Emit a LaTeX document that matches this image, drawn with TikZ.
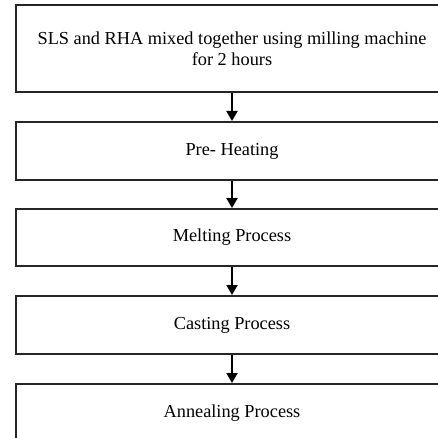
\documentclass[tikz,border=0pt]{standalone}
\usepackage{fontspec}
\setmainfont{Liberation Serif}
\usetikzlibrary{arrows.meta}
\begin{document}
\begin{tikzpicture}[x=1pt,y=1pt,
  stagebox/.style={draw=black!85, line width=2pt, minimum width=432pt,
    inner sep=0pt, align=center, font=\fontsize{18.3}{20.5}\selectfont},
  flow/.style={draw=black, line width=2pt,
    -{Triangle[width=11pt,length=10pt]}}]
  \useasboundingbox (0,0) rectangle (437,-438);
  \fill[white] (0,0) rectangle (437,-438);
  % process stages, top to bottom
  \node[stagebox, minimum height=87pt] (mix) at (232,-48.5)
    {SLS and RHA mixed together using milling machine\\for 2 hours};
  \node[stagebox, minimum height=58pt] (pre) at (232,-151) {Pre- Heating};
  \node[stagebox, minimum height=57pt] (melt) at (232,-237.5) {Melting Process};
  \node[stagebox, minimum height=58pt] (cast) at (232,-325) {Casting Process};
  \node[stagebox, minimum height=58pt] (anneal) at (232,-413) {Annealing Process};
  % connectors between stages
  \draw[flow] (mix.south) -- (pre.north);
  \draw[flow] (pre.south) -- (melt.north);
  \draw[flow] (melt.south) -- (cast.north);
  \draw[flow] (cast.south) -- (anneal.north);
\end{tikzpicture}
\end{document}
